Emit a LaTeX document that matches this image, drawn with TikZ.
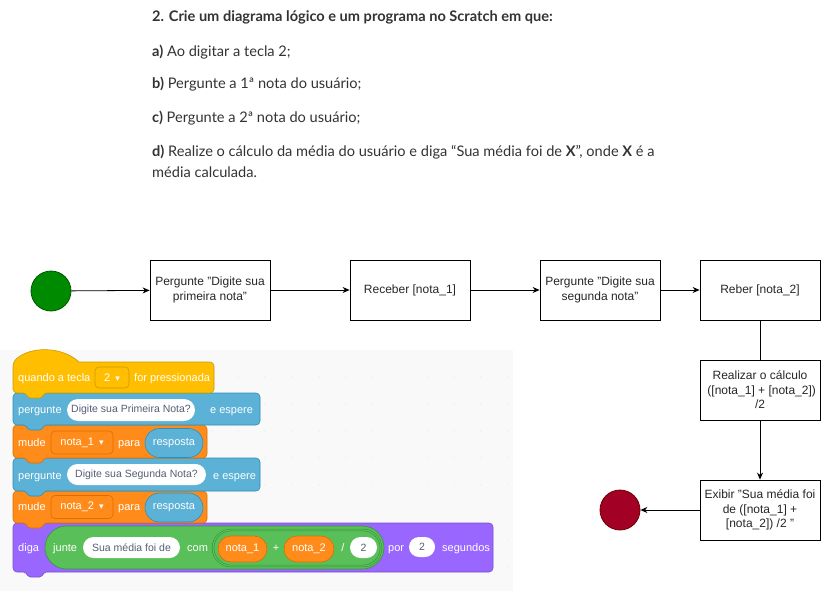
\documentclass[tikz,border=0pt]{standalone}
\usepackage{fontspec}
\setmainfont{Liberation Sans}
\newfontfamily\uifont{Lato}
\newfontfamily\symfont{DejaVu Sans}
\usetikzlibrary{arrows.meta,shapes.misc}

\definecolor{txtgray}{HTML}{333333}
\definecolor{startc}{HTML}{008A00}
\definecolor{startd}{HTML}{005700}
\definecolor{endc}{HTML}{A20025}
\definecolor{endd}{HTML}{6F0000}
\definecolor{bgc}{HTML}{F9F9F9}
\definecolor{hatc}{HTML}{FFBF00}
\definecolor{hatd}{HTML}{CC9900}
\definecolor{lookc}{HTML}{5CB1D6}
\definecolor{lookd}{HTML}{2E8EB8}
\definecolor{varc}{HTML}{FF8C1A}
\definecolor{vard}{HTML}{DB6E00}
\definecolor{sayc}{HTML}{9966FF}
\definecolor{sayd}{HTML}{774DCB}
\definecolor{opc}{HTML}{59C059}
\definecolor{opd}{HTML}{389438}
\definecolor{scgray}{HTML}{575E75}

\tikzset{
 qline/.style={anchor=base west, inner sep=0, text=txtgray, font=\uifont\fontsize{14.6}{17}\selectfont},
 fbox/.style={draw, line width=0.8pt, minimum width=120pt, minimum height=60pt, align=center, text=black!85, font=\fontsize{12}{15}\selectfont},
 flow/.style={-{Stealth[length=7pt,width=6pt]}, line width=0.8pt},
 lbl/.style={anchor=west, inner sep=0, text=white, text height=8pt, text depth=2pt, font=\fontsize{11}{13}\selectfont},
 inp/.style={rounded rectangle, fill=white, text=scgray, inner sep=0, font=\fontsize{10.5}{12}\selectfont},
 rep/.style={rounded rectangle, line width=0.6pt, inner sep=0, text=white, font=\fontsize{11}{13}\selectfont},
 drop/.style={rectangle, rounded corners=4pt, line width=0.6pt, inner sep=0, text=white, font=\fontsize{11}{13}\selectfont}
}

\newcommand\tri{{\symfont\fontsize{9}{9}\selectfont ▾}}

\newcommand\stackblk[6]{%
 \filldraw[fill=#5,draw=#6,line width=0.6pt,rounded corners=4pt]
 (#1,#2) -- (#3,#2) -- (#3,#4) -- ({#1+40},#4) [rounded corners=1.5pt] -- ({#1+32},#4)
 -- ({#1+28},{#4+5}) -- ({#1+16},{#4+5}) -- ({#1+12},#4) -- ({#1+6},#4)
 [rounded corners=4pt] -- (#1,#4) -- cycle;}

\begin{document}
\begin{tikzpicture}[x=1pt,y=-1pt]
\useasboundingbox (0,0) rectangle (821,591);

\node[qline] (title) at (152,22) {\bfseries 2. Crie um diagrama lógico e um programa no Scratch em que:};
\node[qline] (itema) at (152,57) {\textbf{a)} Ao digitar a tecla 2;};
\node[qline] (itemb) at (152,89) {\textbf{b)} Pergunte a 1ª nota do usuário;};
\node[qline] (itemc) at (152,123) {\textbf{c)} Pergunte a 2ª nota do usuário;};
\node[qline] (itemd) at (152,156) {\textbf{d)} Realize o cálculo da média do usuário e diga “Sua média foi de \textbf{X}”, onde \textbf{X} é a};
\node[qline] (itemd2) at (152,177) {média calculada.};

\node[circle, fill=startc, draw=startd, line width=0.8pt, minimum size=40pt, inner sep=0] (start) at (51,291) {};
\node[fbox] (ask1) at (210,290) {Pergunte "Digite sua\\primeira nota"};
\node[fbox] (get1) at (410,290) {Receber [nota\_1]};
\node[fbox] (ask2) at (600,290) {Pergunte "Digite sua\\segunda nota"};
\node[fbox] (get2) at (760,290) {Reber [nota\_2]};
\node[fbox, font=\fontsize{12}{14.5}\selectfont] (calc) at (760,390) {Realizar o cálculo\\{} ([nota\_1] + [nota\_2])\\/2};
\node[fbox, font=\fontsize{12}{14.5}\selectfont] (show) at (760,510) {Exibir "Sua média foi\\de ([nota\_1] +\\{}[nota\_2]) /2 "};
\node[circle, fill=endc, draw=endd, line width=0.8pt, minimum size=40pt, inner sep=0] (stop) at (620,510) {};

\draw[flow] (start) -- (ask1);
\draw[flow] (ask1) -- (get1);
\draw[flow] (get1) -- (ask2);
\draw[flow] (ask2) -- (get2);
\draw[line width=0.8pt] (get2) -- (calc);
\draw[flow] (calc) -- (show);
\draw[flow] (show) -- (stop);

\fill[bgc] (0,350) rectangle (513,591);
\foreach \x in {22,49,...,508}
 \foreach \y in {377,404,...,590}
  \fill[black!10] (\x,\y) circle (0.7);

\stackblk{13}{523}{493}{572}{sayc}{sayd}
\stackblk{13}{491}{207}{523}{varc}{vard}
\stackblk{13}{458}{260}{491}{lookc}{lookd}
\stackblk{13}{425}{207}{458}{varc}{vard}
\stackblk{13}{393}{260}{425}{lookc}{lookd}
\filldraw[fill=hatc,draw=hatd,line width=0.6pt]
 (13,362) .. controls (30,346) and (62,346) .. (79,362) [rounded corners=4pt] -- (214,362) -- (214,393)
 -- (53,393) [rounded corners=1.5pt] -- (45,393) -- (41,398) -- (29,398) -- (25,393) -- (19,393)
 [rounded corners=4pt] -- (13,393) -- cycle;

\node[lbl] (when) at (18,378) {quando a tecla};
\node[drop, fill=hatc, draw=hatd, minimum width=34pt, minimum height=21pt] (key) at (112,377.5) {2\hspace{5pt}\tri};
\node[lbl] (pressed) at (134,378) {for pressionada};

\node[lbl] (ask1lbl) at (18,410) {pergunte};
\node[inp, minimum width=128pt, minimum height=22pt] (ask1txt) at (131,410) {Digite sua Primeira Nota?};
\node[lbl] (wait1) at (210,410) {e espere};

\node[lbl] (set1) at (18,443) {mude};
\node[drop, fill=varc, draw=vard, minimum width=62pt, minimum height=23pt] (var1) at (82,442.5) {nota\_1\hspace{5pt}\tri};
\node[lbl] (to1) at (118,443) {para};
\node[rep, fill=lookc, draw=lookd, minimum width=58pt, minimum height=29pt] (ans1) at (174,443) {resposta};

\node[lbl] (ask2lbl) at (18,476) {pergunte};
\node[inp, minimum width=139pt, minimum height=21pt] (ask2txt) at (136.5,474.5) {Digite sua Segunda Nota?};
\node[lbl] (wait2) at (213,476) {e espere};

\node[lbl] (set2) at (18,507) {mude};
\node[drop, fill=varc, draw=vard, minimum width=62pt, minimum height=23pt] (var2) at (82,507) {nota\_2\hspace{5pt}\tri};
\node[lbl] (to2) at (118,507) {para};
\node[rep, fill=lookc, draw=lookd, minimum width=58pt, minimum height=29pt] (ans2) at (174,507.5) {resposta};

\node[lbl] (say) at (18,548) {diga};
\node[rep, fill=opc, draw=opd, minimum width=339pt, minimum height=43pt] (join) at (214.5,547.5) {};
\node[rep, fill=opc, draw=opd, double=opc, double distance=1.2pt, minimum width=168pt, minimum height=36pt] (div) at (297,548) {};
\node[lbl] (joinlbl) at (53,548) {junte};
\node[inp, minimum width=97pt, minimum height=21pt] (msg) at (131.5,547.5) {Sua média foi de};
\node[lbl] (with) at (187,548) {com};
\node[rep, fill=varc, draw=vard, minimum width=49pt, minimum height=26pt] (n1) at (242.5,549) {nota\_1};
\node[lbl, anchor=center] (plus) at (276,548) {+};
\node[rep, fill=varc, draw=vard, minimum width=50pt, minimum height=26pt] (n2) at (309,549) {nota\_2};
\node[lbl, anchor=center] (over) at (343,548) {/};
\node[inp, minimum width=27pt, minimum height=21pt] (two) at (363.5,547.5) {2};
\node[lbl] (for) at (388,548) {por};
\node[inp, minimum width=26pt, minimum height=20pt] (secs) at (422,547) {2};
\node[lbl] (seclbl) at (442,548) {segundos};
\end{tikzpicture}
\end{document}
